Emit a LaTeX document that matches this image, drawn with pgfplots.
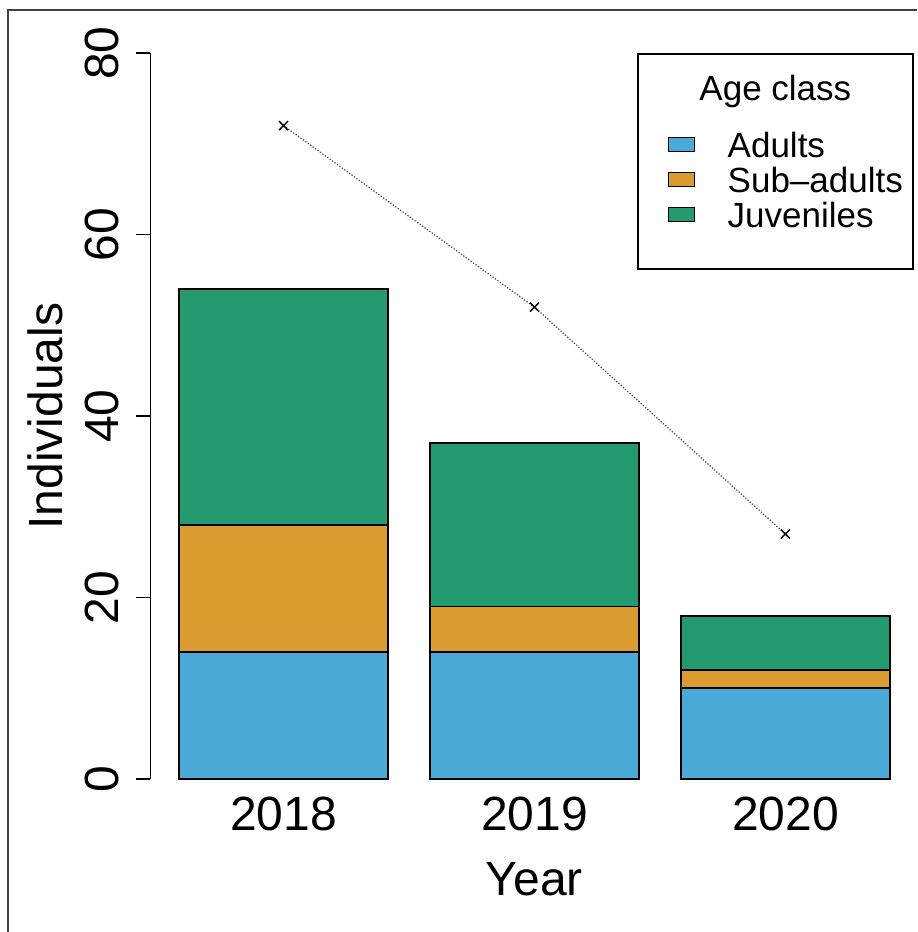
\documentclass[border=0pt]{standalone}
\usepackage{fontspec}
\setmainfont{Liberation Sans}
\usepackage{pgfplots}
\pgfplotsset{compat=1.18}
\definecolor{cAd}{RGB}{75,169,216}
\definecolor{cSub}{RGB}{218,155,48}
\definecolor{cJuv}{RGB}{35,154,112}
\newcommand{\bigf}{\fontsize{24}{28}\selectfont}
\newcommand{\legf}{\fontsize{17.5}{21}\selectfont}
\pgfplotsset{rbox/.style={legend image code/.code={\path[draw=none, fill=none] (0pt,0pt) -- (40pt,0pt); \draw[##1, line width=0.6pt] (10.5pt,-2.5pt) rectangle (23.5pt,4.5pt);}}}
\begin{document}
\begin{tikzpicture}
\useasboundingbox (0pt,0pt) rectangle (458.5pt,466pt);
\draw[line width=1pt, black!75] (4.2pt,0pt) -- (4.2pt,461pt) -- (458.5pt,461pt);
\begin{axis}[
  at={(75.25pt,76.5pt)}, anchor=south west,
  scale only axis, width=383.95pt, height=363pt,
  xmin=0.064, xmax=3.736, ymin=0, ymax=80,
  axis x line*=bottom, axis y line*=left,
  x axis line style={draw=none},
  y axis line style={line width=0.9pt, black},
  ytick={0,20,40,60,80},
  xtick={0.7,1.9,3.1}, xticklabels={2018,2019,2020},
  tick align=outside, major tick length=7pt,
  xtick style={draw=none},
  ytick style={line width=0.9pt, black},
  tick label style={font=\bigf},
  /pgf/number format/assume math mode=true,
  yticklabel style={rotate=90, anchor=base, inner sep=0pt},
  yticklabel shift=9pt,
  xticklabel style={anchor=north, inner sep=0pt},
  xticklabel shift=2pt,
  xlabel={Year}, ylabel={Individuals},
  every axis x label/.style={at={([yshift=-58pt]axis description cs:0.5,0)}, anchor=base, font=\bigf},
  every axis y label/.style={at={([xshift=-44pt]axis description cs:0,0.5)}, rotate=90, anchor=base, font=\bigf},
  ybar stacked, bar width=1,
  clip=false,
  legend style={at={(axis cs:2.39,80)}, anchor=north west, draw=black, line width=0.8pt,
    inner xsep=5pt, inner ysep=9.27pt, font=\legf,
    nodes={inner xsep=0pt, inner ysep=0pt, text depth=, text height=}},
  legend cell align=left,
]
\addlegendimage{empty legend}
\addlegendentry{\rule[-14.5pt]{0pt}{28.5pt}\hspace*{-40pt}\makebox[127.6pt][c]{Age class}}
\addplot[fill=cAd, draw=black, line width=0.9pt, rbox]
  coordinates {(0.7,14) (1.9,14) (3.1,10)};
\addlegendentry{\rule[-3.5pt]{0pt}{17.5pt}Adults}
\addplot[fill=cSub, draw=black, line width=0.9pt, rbox]
  coordinates {(0.7,14) (1.9,5) (3.1,2)};
\addlegendentry{\rule[-3.5pt]{0pt}{17.5pt}Sub–adults}
\addplot[fill=cJuv, draw=black, line width=0.9pt, rbox]
  coordinates {(0.7,26) (1.9,18) (3.1,6)};
\addlegendentry{\rule[-3.5pt]{0pt}{17.5pt}Juveniles}
\addlegendimage{empty legend}
\addlegendentry{\rule{0pt}{8pt}}
\end{axis}
\begin{axis}[
  at={(75.25pt,76.5pt)}, anchor=south west,
  scale only axis, width=383.95pt, height=363pt,
  xmin=0.064, xmax=3.736, ymin=0, ymax=80,
  hide axis, clip=false,
]
\addplot[black!75, line width=0.6pt, dash pattern=on 0.6pt off 0.9pt,
  mark=x, mark size=3.2pt, mark options={solid, black, line width=0.7pt}]
  coordinates {(0.7,72) (1.9,52) (3.1,27)};
\end{axis}
\end{tikzpicture}
\end{document}
